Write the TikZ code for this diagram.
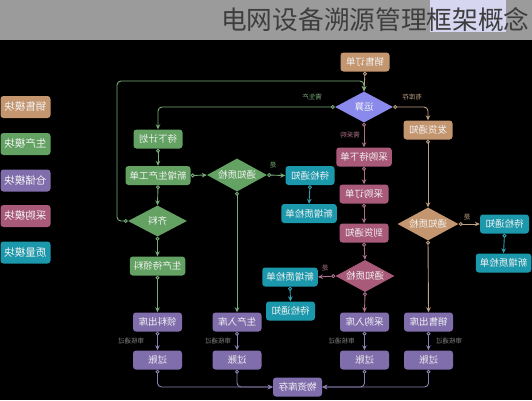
\documentclass[tikz,border=0pt]{standalone}
\usepackage{graphicx}
\usepackage{fontspec}
\newfontfamily\cjk{Noto Sans CJK SC}
\usepackage{tikz}
\usetikzlibrary{shapes.geometric,arrows.meta}

\definecolor{sale}{RGB}{196,150,112}
\definecolor{prod}{RGB}{100,162,100}
\definecolor{store}{RGB}{128,110,172}
\definecolor{buy}{RGB}{168,90,120}
\definecolor{qual}{RGB}{28,152,172}
\definecolor{calcc}{RGB}{138,138,236}
\definecolor{saleln}{RGB}{190,160,130}
\definecolor{prodln}{RGB}{120,172,120}
\definecolor{storeln}{RGB}{140,126,176}
\definecolor{buyln}{RGB}{172,112,138}
\definecolor{qualln}{RGB}{50,160,176}
\definecolor{bandc}{RGB}{155,155,155}
\definecolor{markc}{RGB}{214,214,240}
\definecolor{titlec}{RGB}{62,62,62}

% mirrored labels
\newcommand{\mr}[1]{\reflectbox{#1}}

\tikzset{
  box/.style={rectangle, rounded corners=3pt, fill=#1, text={rgb,255:red,242;green,242;blue,242},
    minimum width=49pt, minimum height=19pt, inner xsep=4pt, inner ysep=0pt,
    font=\cjk\fontsize{9.5}{11}\selectfont},
  dia/.style={diamond, aspect=2, fill=#1, text={rgb,255:red,242;green,242;blue,242},
    minimum width=60pt, minimum height=32pt, inner sep=0pt,
    font=\cjk\fontsize{9.5}{11}\selectfont},
  keybox/.style={box=#1, minimum width=47pt, minimum height=22pt, font=\cjk\fontsize{10.5}{12}\selectfont},
  link/.style={draw=#1, line width=0.9pt, rounded corners=4pt,
    {Circle[open,length=4pt,width=4pt]}-{Stealth[length=5pt,width=4.5pt]}},
  lab/.style={font=\cjk\fontsize{6.5}{7}\selectfont, text=#1, inner sep=0pt}
}

\begin{document}
\begin{tikzpicture}[x=1pt,y=-1pt]
	\useasboundingbox (0,0) rectangle (532,400);
	% background and title
	\fill[black] (0,40) rectangle (532,400);
	\fill[bandc] (0,0) rectangle (532,40);
	\fill[markc] (430,0) rectangle (506,32);
	\node[anchor=west, inner sep=0pt, text=titlec, font=\cjk\fontsize{25.7}{28}\selectfont] (title) at (221,20) {电网设备溯源管理框架概念};

	% legend
	\node[keybox=sale] (k1) at (25.5,107) {\mr{销售模块}};
	\node[keybox=prod] (k2) at (25.5,144) {\mr{生产模块}};
	\node[keybox=store] (k3) at (25.5,180.5) {\mr{仓储模块}};
	\node[keybox=buy] (k4) at (25.5,216) {\mr{采购模块}};
	\node[keybox=qual] (k5) at (25.5,252.5) {\mr{质量模块}};

	% Sales
	\node[box=sale] (order) at (365,62) {\mr{销售订单}};
	\node[dia=calcc, minimum width=58pt, minimum height=31pt] (calc) at (364,107) {\mr{运算}};
	\node[box=sale] (ship) at (428,130) {\mr{发货通知}};
	\node[dia=sale, minimum width=61pt, minimum height=33pt] (sqc) at (428,224) {\mr{通知质检}};
	\node[box=store] (sout) at (428.5,322) {\mr{销售出库}};

	% Production
	\node[box=prod] (plan) at (158,139) {\mr{待下计划}};
	\node[box=prod] (wo) at (158,175.5) {\mr{新增生产工单}};
	\node[dia=prod, minimum height=33pt] (gqc) at (237,175) {\mr{通知质检}};
	\node[dia=prod, minimum width=59pt, minimum height=31pt] (mat) at (157.5,221) {\mr{齐料}};
	\node[box=prod] (pwm) at (157.5,266) {\mr{生产待领料}};
	\node[box=store] (mout) at (157.5,322) {\mr{领料出库}};
	\node[box=store] (min) at (237,322) {\mr{生产入库}};

	% Purchase
	\node[box=buy] (pwait) at (364,157) {\mr{采购待下单}};
	\node[box=buy] (porder) at (364,194) {\mr{采购订单}};
	\node[box=buy] (arrive) at (364,233) {\mr{到货通知}};
	\node[dia=buy, minimum width=59pt] (pqc) at (365,276) {\mr{通知质检}};
	\node[box=store] (pin) at (364.5,322) {\mr{采购入库}};

	% Quality
	\node[box=qual] (qn1) at (310,175.5) {\mr{待检通知}};
	\node[box=qual] (qs1) at (309,213.5) {\mr{新增质检单}};
	\node[box=qual] (qs2) at (290,277) {\mr{新增质检单}};
	\node[box=qual] (qn2) at (290.5,311) {\mr{待检通知}};
	\node[box=qual] (qn3) at (504.5,224) {\mr{待检通知}};
	\node[box=qual] (qs3) at (503.5,263) {\mr{新增质检单}};

	% Store
	\node[box=store] (post1) at (157.5,360) {\mr{过账}};
	\node[box=store] (post2) at (237,360) {\mr{过账}};
	\node[box=store] (post3) at (364.5,360) {\mr{过账}};
	\node[box=store] (post4) at (428.5,360) {\mr{过账}};
	\node[box=store] (stock) at (297.5,387) {\mr{物资库存}};

	% links
	\coordinate (loop) at (117,81);
	\draw[link=saleln] (order.south) -- (calc.north);
	\draw[link=prodln] (mat.west) -| (loop) -| (calc.north);
	\draw[link=prodln] (calc.west) -| (plan.north);
	\draw[link=saleln] (calc.east) -| (ship.north);
	\draw[link=buyln] (calc.south) -- (pwait.north);
	\node[lab=prodln] (l1) at (312,97) {\mr{需生产}};
	\node[lab=saleln] (l2) at (412,97) {\mr{有库存}};
	\node[lab=buyln] (l3) at (350,135) {\mr{需采购}};

	\draw[link=prodln] (plan.south) -- (wo.north);
	\draw[link=prodln] (wo.east) -- (gqc.west);
	\draw[link=prodln] (gqc.east) -- (qn1.west);
	\node[lab=prodln] (y1) at (273,165) {\mr{是}};
	\draw[link=qualln] (qn1.south) -- (qs1.north);
	\draw[link=prodln] (gqc.south) -- (min.north);
	\draw[link=prodln] (wo.south) -- (mat.north);
	\draw[link=prodln] (mat.south) -- (pwm.north);
	\draw[link=prodln] (pwm.south) -- (mout.north);

	\draw[link=buyln] (pwait.south) -- (porder.north);
	\draw[link=buyln] (porder.south) -- (arrive.north);
	\draw[link=buyln] (arrive.south) -- (pqc.north);
	\draw[link=buyln] (pqc.west) -- (qs2.east);
	\node[lab=buyln] (y2) at (325,268) {\mr{是}};
	\draw[link=qualln] (qs2.south) -- (qn2.north);
	\draw[link=buyln] (pqc.south) -- (pin.north);

	\draw[link=saleln] (ship.south) -- (sqc.north);
	\draw[link=saleln] (sqc.east) -- (qn3.west);
	\node[lab=saleln] (y3) at (467,217) {\mr{是}};
	\draw[link=qualln] (qn3.south) -- (qs3.north);
	\draw[link=saleln] (sqc.south) -- (sout.north);

	% posting
	\draw[link=storeln] (mout.south) -- (post1.north);
	\draw[link=storeln] (min.south) -- (post2.north);
	\draw[link=storeln] (pin.south) -- (post3.north);
	\draw[link=storeln] (sout.south) -- (post4.north);
	\node[lab=gray] (a1) at (131,341) {\mr{审核通过}};
	\node[lab=gray] (a2) at (218,341) {\mr{审核通过}};
	\node[lab=gray] (a3) at (341.5,341) {\mr{审核通过}};
	\node[lab=gray] (a4) at (449,341) {\mr{审核通过}};
	\draw[link=storeln] (post1.south) |- (stock.west);
	\draw[link=storeln] (post2.south) |- (stock.west);
	\draw[link=storeln] (post3.south) |- (stock.east);
	\draw[link=storeln] (post4.south) |- (stock.east);

\end{tikzpicture}
\end{document}
